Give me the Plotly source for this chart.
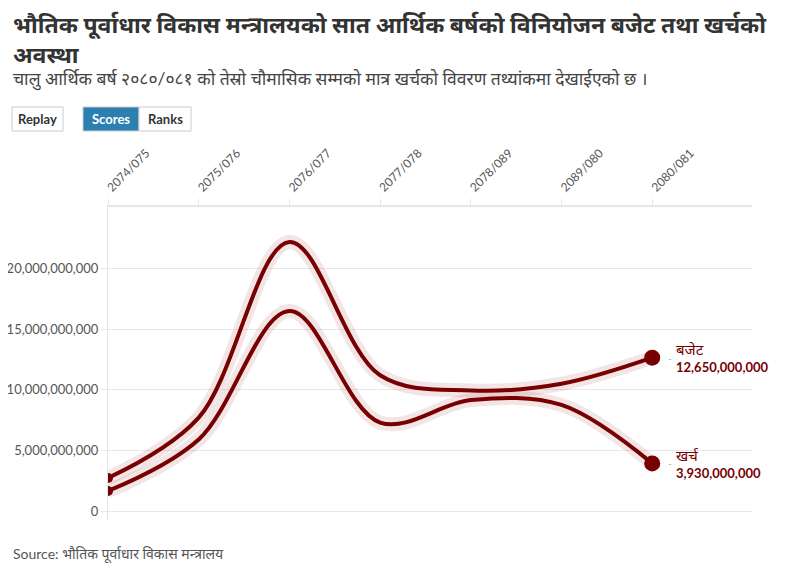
import plotly.graph_objects as go

# data
years = ["2074/075", "2075/076", "2076/077", "2077/078", "2078/089", "2089/080", "2080/081"]
budget = [2.72e9, 7.7e9, 22.2e9, 11.2e9, 9.95e9, 10.5e9, 12.65e9]
expense = [1.65e9, 5.9e9, 16.5e9, 7.3e9, 9.15e9, 8.75e9, 3.93e9]
series_names = ["बजेट", "खर्च"]

# page has an 8px body margin, so the figure is laid out in page pixels minus OFF
OFF = 8
W, H = 796 - OFF, 575 - OFF
ML, MR, MT, MB = 108 - OFF, 44, 207 - OFF, 55
RED = "#780000"
FONT = "Lato, 'Noto Sans', sans-serif"


def px(x):
    return (x - OFF - ML) / (W - ML - MR)


def py(y):
    return (H - MB - (y - OFF)) / (H - MT - MB)


xs = list(range(len(years)))
fig = go.Figure()

for vals in [budget, expense]:
    # soft halo under the line
    fig.add_trace(go.Scatter(x=xs, y=vals, mode="lines", line=dict(color="rgba(140,0,0,0.1)", width=14, shape="spline", smoothing=1.0),
                             hoverinfo="skip"))
    fig.add_trace(go.Scatter(x=xs, y=vals, mode="lines", line=dict(color=RED, width=4, shape="spline", smoothing=1.0)))
    fig.add_trace(go.Scatter(x=[xs[0]], y=[vals[0]], mode="markers", marker=dict(color=RED, size=10)))
    fig.add_trace(go.Scatter(x=[xs[-1]], y=[vals[-1]], mode="markers", marker=dict(color=RED, size=16)))

for name, vals in zip(series_names, [budget, expense]):
    fig.add_annotation(x=xs[-1], y=vals[-1], xref="x", yref="y", xanchor="left", yanchor="middle", xshift=22,
                       text=f"<span style='font-size:15px'>{name}</span><br><b>{vals[-1]:,.0f}</b>", align="left",
                       showarrow=False, font=dict(family=FONT, size=13, color=RED))
    fig.add_annotation(x=xs[-1], y=vals[-1], xref="x", yref="y", xanchor="left", yanchor="middle", xshift=14,
                       text="-", showarrow=False, font=dict(family=FONT, size=10, color="#aaaaaa"))

# title / subtitle / source
fig.add_annotation(x=px(11), y=py(8), xref="paper", yref="paper", xanchor="left", yanchor="top", align="left",
                   text="<b>भौतिक पूर्वाधार विकास मन्त्रालयको सात आर्थिक बर्षको विनियोजन बजेट तथा खर्चको<br>अवस्था</b>",
                   showarrow=False, font=dict(family=FONT, size=23, color="#333333"))
fig.add_annotation(x=px(11), y=py(66), xref="paper", yref="paper", xanchor="left", yanchor="top", align="left",
                   text="चालु आर्थिक बर्ष २०८०/०८१ को तेस्रो चौमासिक सम्मको मात्र खर्चको विवरण तथ्यांकमा देखाईएको छ ।",
                   showarrow=False, font=dict(family=FONT, size=17.5, color="#444444"))
fig.add_annotation(x=px(11), y=py(543), xref="paper", yref="paper", xanchor="left", yanchor="top", align="left",
                   text="Source: भौतिक पूर्वाधार विकास मन्त्रालय", showarrow=False,
                   font=dict(family=FONT, size=14, color="#555555"))

# buttons
buttons = [("Replay", 12, 63, "white", "#333333"), ("Scores", 83, 139, "#2b7fb1", "white"), ("Ranks", 139, 191, "white", "#333333")]
for label, x0, x1, bg, fg in buttons:
    fig.add_shape(type="rect", xref="paper", yref="paper", x0=px(x0), x1=px(x1), y0=py(131), y1=py(107),
                  fillcolor=bg, line=dict(color="#cccccc", width=1), layer="above")
    fig.add_annotation(x=px((x0 + x1) / 2), y=py(119), xref="paper", yref="paper", xanchor="center", yanchor="middle",
                       text=f"<b>{label}</b>", showarrow=False, font=dict(family=FONT, size=13, color=fg))

fig.update_layout(
    width=W, height=H,
    margin=dict(l=ML, r=MR, t=MT, b=MB, autoexpand=False),
    paper_bgcolor="white", plot_bgcolor="white",
    showlegend=False,
    font=dict(family=FONT, color="#555555"),
)
fig.update_xaxes(side="top", tickvals=xs, ticktext=years, tickangle=-45, range=[0, 7.1], automargin=False,
                 showgrid=False, zeroline=False, showline=True, linecolor="#e6e6e6", linewidth=2,
                 ticks="outside", ticklen=6, tickcolor="#e6e6e6", tickfont=dict(size=12, color="#555555"))
fig.update_yaxes(range=[-0.74e9, 25.08e9], tickvals=[0, 5e9, 10e9, 15e9, 20e9], tickformat=",.0f", automargin=False,
                 showgrid=True, gridcolor="#e8e8e8", gridwidth=1, zeroline=False,
                 showline=True, linecolor="#e6e6e6", linewidth=1,
                 ticks="outside", ticklen=6, tickcolor="#e6e6e6", tickfont=dict(size=13, color="#555555"))

fig.write_html("out.html")
